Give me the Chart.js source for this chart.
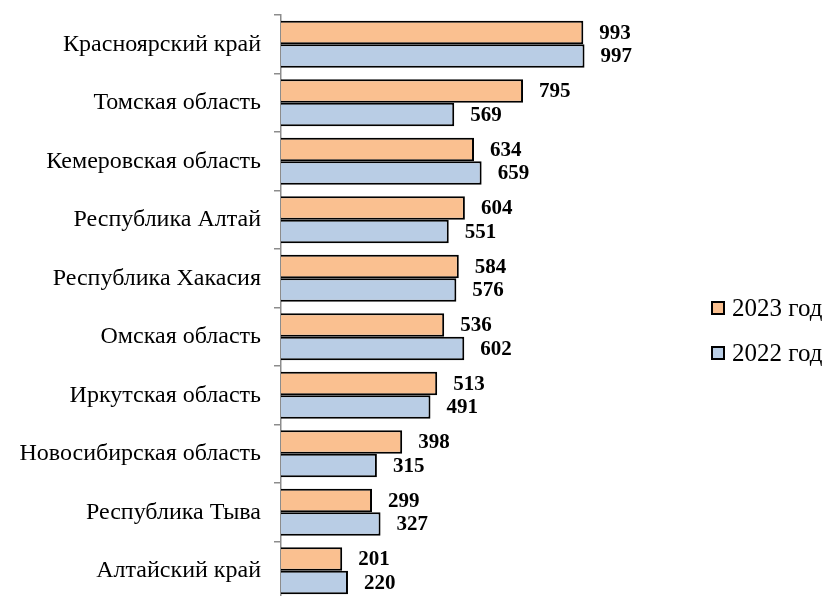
<!DOCTYPE html>
<html>
<head>
<meta charset="utf-8">
<script src="https://cdn.jsdelivr.net/npm/chart.js@4.4.1/dist/chart.umd.min.js"></script>
<style>
    html, body { margin: 0; padding: 0; background: #fff; overflow: hidden; }
    #wrap { position: relative; width: 829px; height: 596px; overflow: hidden; }
    #legend { position: absolute; left: 711px; top: 296px; font-family: 'Liberation Serif', 'Times New Roman', serif; font-size: 25px; color: #000; white-space: nowrap; }
    .item { display: flex; align-items: center; height: 24px; margin-bottom: 21px; }
    .box { width: 14px; height: 14px; border: 2px solid #000; margin-right: 7px; box-sizing: border-box; }
</style>
</head>
<body>
<div id="wrap">
    <canvas id="chart" width="829" height="600"></canvas>
    <div id="legend"></div>
</div>
<script>
const REGIONS = [
    'Красноярский край',
    'Томская область',
    'Кемеровская область',
    'Республика Алтай',
    'Республика Хакасия',
    'Омская область',
    'Иркутская область',
    'Новосибирская область',
    'Республика Тыва',
    'Алтайский край',
];

const VALUES_2023 = [993, 795, 634, 604, 584, 536, 513, 398, 299, 201];
const VALUES_2022 = [997, 569, 659, 551, 576, 602, 491, 315, 327, 220];

const SERIES_LABELS = ['2023 год', '2022 год'];
const SERIES_COLORS = ['#FAC090', '#B9CDE5'];

const SERIF = "'Liberation Serif', 'Times New Roman', serif";

// value labels to the right of each bar
const barValues = {
    id: 'barValues',
    afterDatasetsDraw(chart) {
        const { ctx } = chart;
        ctx.save();
        ctx.font = `bold 21px ${SERIF}`;
        ctx.fillStyle = '#000';
        ctx.textAlign = 'left';
        ctx.textBaseline = 'middle';
        chart.data.datasets.forEach((ds, i) => {
            chart.getDatasetMeta(i).data.forEach((bar, j) => {
                ctx.fillText(String(ds.data[j]), bar.x + 16, bar.y + 1);
            });
        });
        ctx.restore();
    },
};

new Chart(document.getElementById('chart'), {
    type: 'bar',
    data: {
        labels: REGIONS,
        datasets: [
            {
                label: SERIES_LABELS[0],
                data: VALUES_2023,
                backgroundColor: SERIES_COLORS[0],
                borderColor: '#000',
                borderWidth: 2,
                categoryPercentage: 0.8,
                barPercentage: 1.0,
            },
            {
                label: SERIES_LABELS[1],
                data: VALUES_2022,
                backgroundColor: SERIES_COLORS[1],
                borderColor: '#000',
                borderWidth: 2,
                categoryPercentage: 0.8,
                barPercentage: 1.0,
            },
        ],
    },
    options: {
        responsive: false,
        animation: false,
        indexAxis: 'y',
        layout: { padding: { top: 15, right: 0, bottom: 0, left: 0 } },
        scales: {
            x: {
                display: false,
                min: 0,
                max: 1800,
            },
            y: {
                afterFit: (scale) => {
                    scale.width = 281;
                    scale.paddingTop = 0;
                    scale.paddingBottom = 0;
                },
                border: { display: true, color: '#8c8c8c', width: 1.5 },
                grid: { drawOnChartArea: false, color: '#8c8c8c', tickLength: 7, lineWidth: 1.5 },
                ticks: {
                    color: '#000',
                    padding: 13,
                    font: { family: SERIF, size: 24 },
                },
            },
        },
        plugins: {
            legend: { display: false },
            tooltip: { enabled: false },
        },
    },
    plugins: [barValues],
});

const legend = document.getElementById('legend');
SERIES_LABELS.forEach((label, i) => {
    const item = document.createElement('div');
    item.className = 'item';
    const box = document.createElement('span');
    box.className = 'box';
    box.style.background = SERIES_COLORS[i];
    const text = document.createElement('span');
    text.textContent = label;
    item.appendChild(box);
    item.appendChild(text);
    legend.appendChild(item);
});
</script>
</body>
</html>
